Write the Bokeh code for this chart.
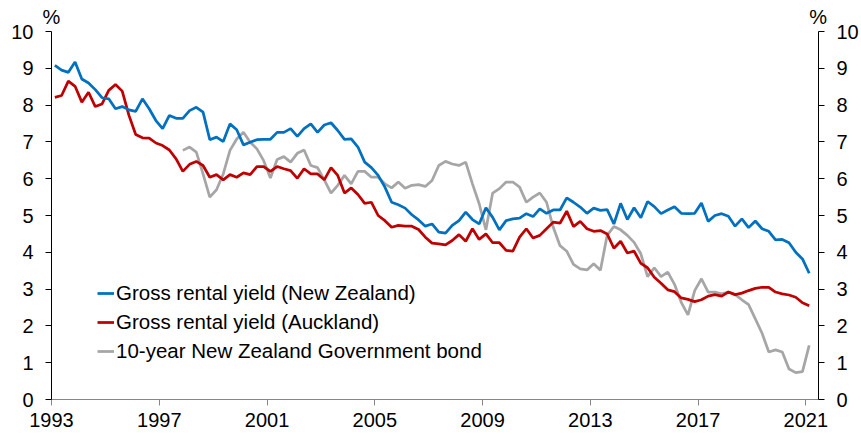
from bokeh.plotting import figure
from bokeh.models import (Range1d, LinearAxis, FixedTicker, Legend, LegendItem,
                          CustomJSTickFormatter)
from bokeh.embed import file_html
from bokeh.resources import INLINE

# ---- data (quarterly, starting 1993 Q1) ----
start_year = 1993
nz_yield = [9.08, 8.95, 8.89, 9.17, 8.71, 8.60, 8.42, 8.20, 8.17, 7.90,
            7.96, 7.87, 7.83, 8.17, 7.90, 7.58, 7.36, 7.72, 7.64, 7.64,
            7.85, 7.94, 7.81, 7.06, 7.13, 7.01, 7.49, 7.33, 6.92,
            6.99, 7.06, 7.07, 7.07, 7.26, 7.26, 7.36, 7.15, 7.36, 7.49,
            7.26, 7.46, 7.52, 7.31, 7.07, 7.08, 6.86, 6.45, 6.30, 6.09,
            5.77, 5.36, 5.29, 5.20, 5.02, 4.88, 4.71, 4.77, 4.55,
            4.52, 4.73, 4.86, 5.09, 4.89, 4.77, 5.21, 4.95, 4.61, 4.86,
            4.91, 4.93, 5.05, 4.97, 5.18, 5.06, 5.15, 5.15, 5.48, 5.36,
            5.23, 5.06, 5.20, 5.14, 5.16, 4.77, 5.33, 4.89, 5.21,
            4.94, 5.38, 5.24, 5.05, 5.15, 5.24, 5.06, 5.05, 5.06, 5.34,
            4.84, 5.00, 5.05, 4.98, 4.71, 4.91, 4.67, 4.85, 4.64, 4.57,
            4.34, 4.35, 4.26, 4.00, 3.82, 3.43]
akl_yield = [8.21, 8.26, 8.65, 8.51, 8.08, 8.35, 7.96, 8.03, 8.40, 8.56,
             8.38, 7.72, 7.20, 7.11, 7.10, 6.97, 6.90, 6.78, 6.54, 6.20,
             6.39, 6.47, 6.36, 6.04, 6.11, 5.97, 6.11, 6.04, 6.16,
             6.11, 6.33, 6.33, 6.20, 6.33, 6.27, 6.22, 6.01, 6.27, 6.13,
             6.13, 5.97, 6.30, 6.09, 5.61, 5.75, 5.57, 5.33, 5.36, 5.00,
             4.86, 4.68, 4.73, 4.71, 4.71, 4.62, 4.41, 4.25, 4.23,
             4.20, 4.32, 4.48, 4.30, 4.64, 4.35, 4.50, 4.26, 4.26, 4.05,
             4.03, 4.41, 4.64, 4.39, 4.46, 4.64, 4.82, 4.79, 5.12, 4.70,
             4.84, 4.64, 4.57, 4.59, 4.50, 4.11, 4.30, 3.98, 4.03,
             3.70, 3.58, 3.32, 3.16, 2.98, 2.93, 2.76, 2.72, 2.66, 2.71,
             2.81, 2.85, 2.81, 2.92, 2.85, 2.89, 2.96, 3.02, 3.05, 3.05,
             2.92, 2.87, 2.84, 2.78, 2.63, 2.55]
bond_start_index = 19  # bond series begins 1997 Q4
bond_yield = [6.77, 6.86, 6.72, 6.13, 5.50, 5.70, 6.13, 6.77, 7.08, 7.26,
              6.99, 6.81, 6.49, 6.02, 6.52, 6.60, 6.45, 6.69, 6.78, 6.36,
              6.30, 5.97, 5.61, 5.82, 6.09, 5.86, 6.20, 6.20, 6.04, 6.04,
              5.86, 5.75, 5.91, 5.74, 5.82, 5.84, 5.79, 5.95, 6.36,
              6.47, 6.40, 6.36, 6.45, 5.86, 5.32, 4.61, 5.61, 5.73, 5.91,
              5.91, 5.77, 5.36, 5.50, 5.61, 5.36, 4.68, 4.18, 4.03, 3.67,
              3.55, 3.52, 3.69, 3.51, 4.46, 4.70, 4.61, 4.46, 4.27,
              3.96, 3.34, 3.58, 3.34, 3.46, 3.13, 2.64, 2.30, 2.96, 3.28,
              2.92, 2.92, 2.87, 2.92, 2.85, 2.71, 2.58, 2.19, 1.80, 1.29,
              1.35, 1.29, 0.83, 0.73, 0.76, 1.47]
x_ticks = [1993, 1997, 2001, 2005, 2009, 2013, 2017, 2021]
y_ticks = [0, 1, 2, 3, 4, 5, 6, 7, 8, 9, 10]
labels = ["Gross rental yield (New Zealand)",
          "Gross rental yield (Auckland)",
          "10-year New Zealand Government bond"]
unit_label = "%"

# quarter mid-points as decimal years
t = [start_year + (i + 0.5) / 4 for i in range(len(nz_yield))]
t_bond = t[bond_start_index:bond_start_index + len(bond_yield)]

FONT = "Liberation Sans"
FS = "20px"
X_START, X_END = 1993, 2021.47

p = figure(width=861, height=436, output_backend="svg", toolbar_location=None,
           x_range=Range1d(X_START, X_END), y_range=Range1d(0, 10),
           min_border_left=51, min_border_right=41, min_border_top=31,
           min_border_bottom=37, background_fill_color="white",
           border_fill_color="white", outline_line_color=None)
p.xgrid.visible = False
p.ygrid.visible = False

rg = p.line(t_bond, bond_yield, line_color="#A6A6A6", line_width=2.75)
rr = p.line(t, akl_yield, line_color="#C00000", line_width=2.75)
rb = p.line(t, nz_yield, line_color="#0070C0", line_width=2.75)

# bottom axis
xa = p.xaxis[0]
xa.ticker = FixedTicker(ticks=x_ticks)
xa.major_tick_out = 6
xa.major_tick_in = 0
xa.minor_tick_out = 0
xa.minor_tick_in = 0
xa.axis_line_color = "#868686"
xa.major_tick_line_color = "#868686"
xa.major_label_text_font = FONT
xa.major_label_text_font_size = FS
xa.major_label_text_color = "black"
xa.major_label_standoff = 7

# left axis
ya = p.yaxis[0]
ya.ticker = FixedTicker(ticks=y_ticks)
ya.major_tick_out = 6
ya.major_tick_in = 0
ya.minor_tick_out = 0
ya.minor_tick_in = 0
ya.axis_line_color = "black"
ya.major_tick_line_color = "black"
ya.major_label_text_font = FONT
ya.major_label_text_font_size = FS
ya.major_label_text_color = "black"
ya.major_label_standoff = 12

# right axis
ra = LinearAxis(ticker=FixedTicker(ticks=y_ticks))
ra.major_tick_out = 6
ra.major_tick_in = 0
ra.minor_tick_out = 0
ra.minor_tick_in = 0
ra.axis_line_color = "black"
ra.major_tick_line_color = "black"
ra.major_label_text_font = FONT
ra.major_label_text_font_size = FS
ra.major_label_text_color = "black"
ra.major_label_standoff = 12
p.add_layout(ra, "right")

# "%" unit labels above the left and right axes (an invisible top axis)
ua = LinearAxis(ticker=FixedTicker(ticks=[X_START, X_END - 0.01]),
                formatter=CustomJSTickFormatter(code="return %r;" % unit_label))
ua.axis_line_color = None
ua.major_tick_line_color = None
ua.minor_tick_line_color = None
ua.major_tick_out = 0
ua.major_tick_in = 0
ua.major_label_standoff = 4
ua.major_label_text_font = FONT
ua.major_label_text_font_size = FS
ua.major_label_text_color = "black"
p.add_layout(ua, "above")

legend = Legend(items=[LegendItem(label=labels[0], renderers=[rb]),
                       LegendItem(label=labels[1], renderers=[rr]),
                       LegendItem(label=labels[2], renderers=[rg])],
                location=(46, 36), orientation="vertical",
                border_line_alpha=0, background_fill_alpha=0,
                label_text_font=FONT, label_text_font_size="20.5px",
                label_text_color="black",
                glyph_width=17, glyph_height=24, label_height=24,
                label_standoff=2, spacing=5, padding=0, margin=0)
p.add_layout(legend)

open("out.html", "w").write(file_html(p, INLINE))
